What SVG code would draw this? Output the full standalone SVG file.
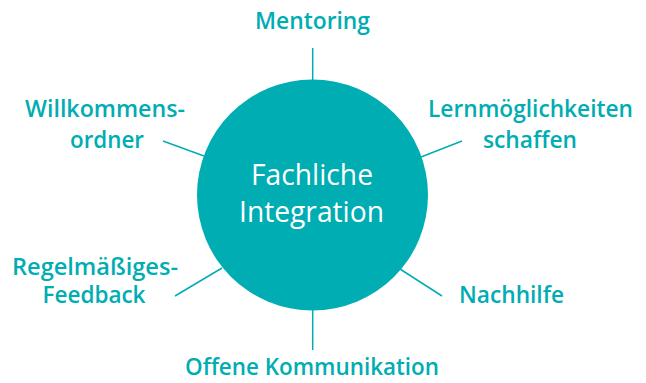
<svg xmlns="http://www.w3.org/2000/svg" width="646" height="383" viewBox="0 0 646 383">
<style>
.lbl{font-family:"Open Sans","Noto Sans",sans-serif;font-weight:600;font-size:22.5px;fill:#00adb3;text-anchor:middle}
.ctr{font-family:"Open Sans","Noto Sans",sans-serif;font-weight:500;font-size:29px;fill:#ffffff;text-anchor:middle}
.con{stroke:#00adb3;stroke-width:1.5;fill:none}
</style>
<rect width="646" height="383" fill="#ffffff"/>
<g id="connectors">
<line class="con" x1="312.7" y1="48" x2="312.7" y2="81"/>
<line class="con" x1="312.7" y1="309" x2="312.7" y2="350"/>
<line class="con" x1="163" y1="141" x2="204" y2="156"/>
<line class="con" x1="175" y1="296" x2="222" y2="268"/>
<line class="con" x1="421" y1="157" x2="462" y2="141"/>
<line class="con" x1="400" y1="269" x2="442" y2="296"/>
</g>
<g id="center">
<circle cx="312.5" cy="195" r="115.5" fill="#00adb3"/>
<text class="ctr" x="312" y="185" textLength="122" lengthAdjust="spacingAndGlyphs">Fachliche</text>
<text class="ctr" x="311.5" y="222" textLength="145" lengthAdjust="spacingAndGlyphs">Integration</text>
</g>
<g id="mentoring"><text class="lbl" x="312.5" y="29" textLength="115" lengthAdjust="spacingAndGlyphs">Mentoring</text></g>
<g id="willkommensordner">
<text class="lbl" x="105" y="117" textLength="160" lengthAdjust="spacingAndGlyphs">Willkommens-</text>
<text class="lbl" x="107" y="148" textLength="74" lengthAdjust="spacingAndGlyphs">ordner</text>
</g>
<g id="lernmoeglichkeiten">
<text class="lbl" x="530.5" y="117" textLength="205" lengthAdjust="spacingAndGlyphs">Lernmöglichkeiten</text>
<text class="lbl" x="530" y="148" textLength="94" lengthAdjust="spacingAndGlyphs">schaffen</text>
</g>
<g id="regelmaessiges">
<text class="lbl" x="95" y="275" textLength="166" lengthAdjust="spacingAndGlyphs">Regelmäßiges-</text>
<text class="lbl" x="94" y="303" textLength="103" lengthAdjust="spacingAndGlyphs">Feedback</text>
</g>
<g id="nachhilfe"><text class="lbl" x="511.5" y="303" textLength="105" lengthAdjust="spacingAndGlyphs">Nachhilfe</text></g>
<g id="kommunikation"><text class="lbl" x="312" y="375" textLength="254" lengthAdjust="spacingAndGlyphs">Offene Kommunikation</text></g>
</svg>
